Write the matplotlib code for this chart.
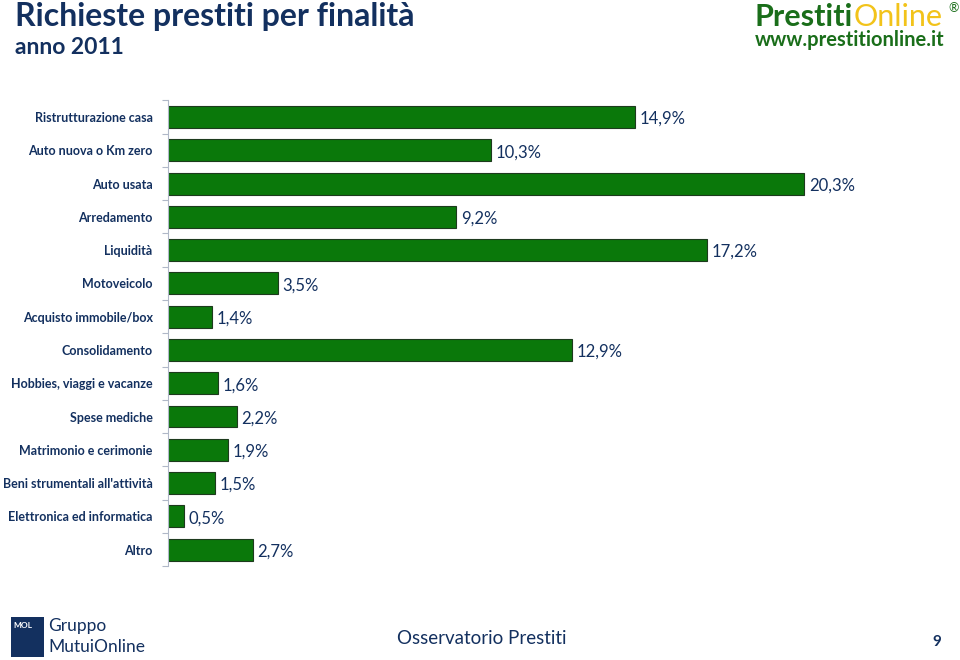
import matplotlib.pyplot as plt
import numpy as np
from matplotlib.patches import Rectangle

# dati
categorie = ["Ristrutturazione casa", "Auto nuova o Km zero", "Auto usata", "Arredamento",
             "Liquidità", "Motoveicolo", "Acquisto immobile/box", "Consolidamento",
             "Hobbies, viaggi e vacanze", "Spese mediche", "Matrimonio e cerimonie",
             "Beni strumentali all'attività", "Elettronica ed informatica", "Altro"]
valori = [14.9, 10.3, 20.3, 9.2, 17.2, 3.5, 1.4, 12.9, 1.6, 2.2, 1.9, 1.5, 0.5, 2.7]
etichette = [f"{v:.1f}%".replace(".", ",") for v in valori]

navy = "#13305f"
verde = "#0a780a"

plt.rcParams['font.family'] = ['Lato', 'DejaVu Sans']

fig = plt.figure(figsize=(9.6, 6.6), dpi=100)
fig.patch.set_facecolor("white")

ax = fig.add_axes([0.175, 0.142, 0.80, 0.706])
y = np.arange(len(categorie))
ax.barh(y, valori, height=0.66, color=verde, edgecolor="#1d3a1d", linewidth=0.8)
ax.set_ylim(len(categorie) - 0.5, -0.5)
ax.set_xlim(0, 24.5)

for yi, v, lab in zip(y, valori, etichette):
    ax.text(v + 0.15, yi + 0.06, lab, va="center", ha="left", fontsize=12, color=navy)

ax.set_yticks(y)
ax.set_yticklabels(categorie, fontsize=9, color=navy, fontweight="bold")
ax.tick_params(axis="y", which="major", length=0, pad=11)
ax.set_yticks(np.arange(-0.5, len(categorie), 1), minor=True)
ax.tick_params(axis="y", which="minor", length=4, color="#b0b8c8", width=0.8)
ax.set_xticks([])
for s in ["top", "right", "bottom"]:
    ax.spines[s].set_visible(False)
ax.spines["left"].set_color("#b0b8c8")
ax.spines["left"].set_linewidth(0.8)

# titolo
fig.text(0.016, 0.96, "Richieste prestiti per finalità", fontsize=23, fontweight="bold",
         color=navy, va="baseline", ha="left")
fig.text(0.016, 0.918, "anno 2011", fontsize=16.5, fontweight="bold", color=navy,
         va="baseline", ha="left")

# logo PrestitiOnline
t1 = fig.text(0.786, 0.96, "Prestiti", fontsize=22, fontweight="bold", color="#1a6e1a",
              va="baseline", ha="left")
t2 = fig.text(0, 0, "Online", fontsize=22, color="#f2c31a", va="baseline", ha="left")
fig.canvas.draw()
bb = t1.get_window_extent().transformed(fig.transFigure.inverted())
t2.set_position((bb.x1 + 0.001, 0.96))
fig.text(0.988, 0.982, "®", fontsize=9, color="#1a6e1a", va="baseline", ha="left")
fig.text(0.786, 0.93, "www.prestitionline.it", fontsize=14.5, fontweight="bold",
         color="#1a6e1a", va="baseline", ha="left")

# piè di pagina
fig.patches.append(Rectangle((0.011, 0.005), 0.035, 0.06, transform=fig.transFigure,
                             facecolor=navy, edgecolor="none"))
fig.text(0.014, 0.058, "MOL", fontsize=6, fontweight="bold", color="white", va="top", ha="left")
fig.text(0.05, 0.052, "Gruppo", fontsize=12.5, color=navy, va="center", ha="left")
fig.text(0.05, 0.02, "MutuiOnline", fontsize=12.5, color=navy, va="center", ha="left")
fig.text(0.502, 0.033, "Osservatorio Prestiti", fontsize=13.5, color=navy, va="center", ha="center")
fig.text(0.976, 0.027, "9", fontsize=11, fontweight="bold", color=navy, va="center", ha="center")

fig.savefig("out.png", dpi=100)
